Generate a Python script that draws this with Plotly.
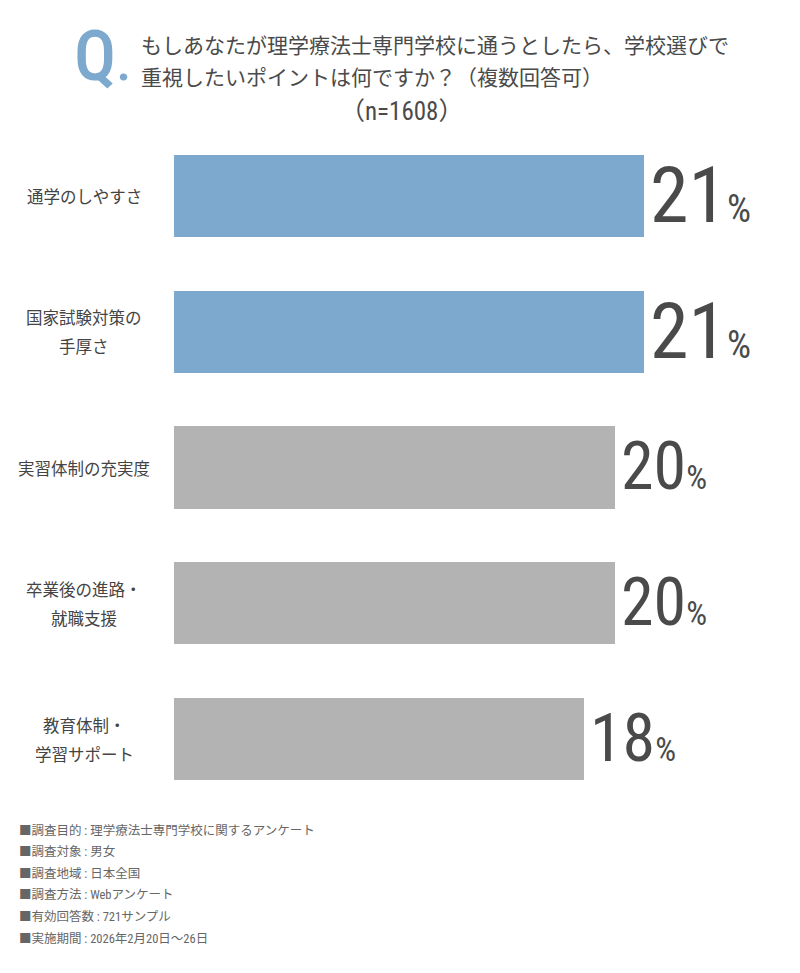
import plotly.graph_objects as go

categories = ["通学のしやすさ", "国家試験対策の<br>手厚さ", "実習体制の充実度", "卒業後の進路・<br>就職支援", "教育体制・<br>学習サポート"]
values = [20.9, 20.9, 19.6, 19.6, 18.2]
value_labels = ["21", "21", "20", "20", "18"]
bar_colors = ["#7DA9CF", "#7DA9CF", "#B3B3B3", "#B3B3B3", "#B3B3B3"]
highlight = [True, True, False, False, False]

title_lines = ["もしあなたが理学療法士専門学校に通うとしたら、学校選びで", "重視したいポイントは何ですか？（複数回答可）"]
sample_text = "（n=1608）"
footer_lines = [
    "■調査目的 : 理学療法士専門学校に関するアンケート",
    "■調査対象 : 男女",
    "■調査地域 : 日本全国",
    "■調査方法 : Webアンケート",
    "■有効回答数 : 721サンプル",
    "■実施期間 : 2026年2月20日〜26日",
]

JP = "Noto Sans CJK JP, Noto Sans, sans-serif"
NUM = "Roboto Condensed, Noto Sans CJK JP, sans-serif"
TXT = "#4A4A4A"

W, H = 800, 973
L, R, T, B = 174, 0, 128, 166
px_per_unit = 22.5
xmax = (W - L - R) / px_per_unit
plot_w = W - L - R
plot_h = H - T - B

def py(ypix):
    return (H - B - ypix) / plot_h

def px(xpix):
    return (xpix - L) / plot_w

ypos = list(range(len(categories)))

fig = go.Figure(go.Bar(
    x=values, y=ypos, orientation="h",
    marker=dict(color=bar_colors, line=dict(width=0)),
    width=0.604, hoverinfo="skip",
))

annotations = []
for i, (v, lab, hl) in enumerate(zip(values, value_labels, highlight)):
    big = 78 if hl else 66
    small = 38 if hl else 33
    annotations.append(dict(
        x=v, y=i, xref="x", yref="y", xanchor="left", yanchor="middle",
        xshift=4, yshift=0 if hl else 1, showarrow=False,
        text=f"<span style='font-size:{big}px'>{lab}</span><span style='font-size:{small}px'>%</span>",
        font=dict(family=NUM, color=TXT, size=big),
    ))
    lines = categories[i].split("<br>")
    n = len(lines)
    for j, line in enumerate(lines):
        offset = (j - (n - 1) / 2) * 29
        annotations.append(dict(
            x=px(84), xref="paper", y=i, yref="y", showarrow=False,
            xanchor="center", yanchor="middle", yshift=-offset,
            text=line, font=dict(family=JP, size=16.5, color="#444444"),
        ))

# Q.
annotations.append(dict(
    x=px(72), y=py(56), xref="paper", yref="paper", xanchor="left", yanchor="middle",
    showarrow=False,
    text="Q<span style='font-size:54px'>.</span>",
    font=dict(family=NUM, size=70, color="#7DA9CF", weight=500),
))
for k, line in enumerate(title_lines):
    annotations.append(dict(
        x=px(139), y=py(44 + 32 * k), xref="paper", yref="paper", xanchor="left", yanchor="middle",
        showarrow=False, text=line, font=dict(family=JP, size=21, color=TXT),
    ))
annotations.append(dict(
    x=px(401), y=py(111), xref="paper", yref="paper", xanchor="center", yanchor="middle",
    showarrow=False, text=sample_text, font=dict(family=NUM, size=25, color=TXT),
))
for k, line in enumerate(footer_lines):
    annotations.append(dict(
        x=px(17), y=py(830 + 21.6 * k), xref="paper", yref="paper", xanchor="left", yanchor="middle",
        showarrow=False, text=line, font=dict(family="Roboto Condensed, Noto Sans CJK JP, sans-serif", size=12.5, color="#666666"),
    ))

shapes = [dict(
    type="line", xref="x", xsizemode="pixel", xanchor=0, x0=-2, x1=-2,
    yref="paper", y0=py(795), y1=py(135),
    line=dict(color="#8A8A8A", width=4),
)]

fig.update_layout(
    width=W, height=H, margin=dict(l=L, r=R, t=T, b=B),
    paper_bgcolor="white", plot_bgcolor="white",
    showlegend=False, bargap=0,
    xaxis=dict(range=[0, xmax], visible=False, fixedrange=True),
    yaxis=dict(range=[len(categories) - 0.5, -0.5], visible=False, fixedrange=True),
    annotations=annotations, shapes=shapes,
)

fig.write_html("out.html", config={"displayModeBar": False})
